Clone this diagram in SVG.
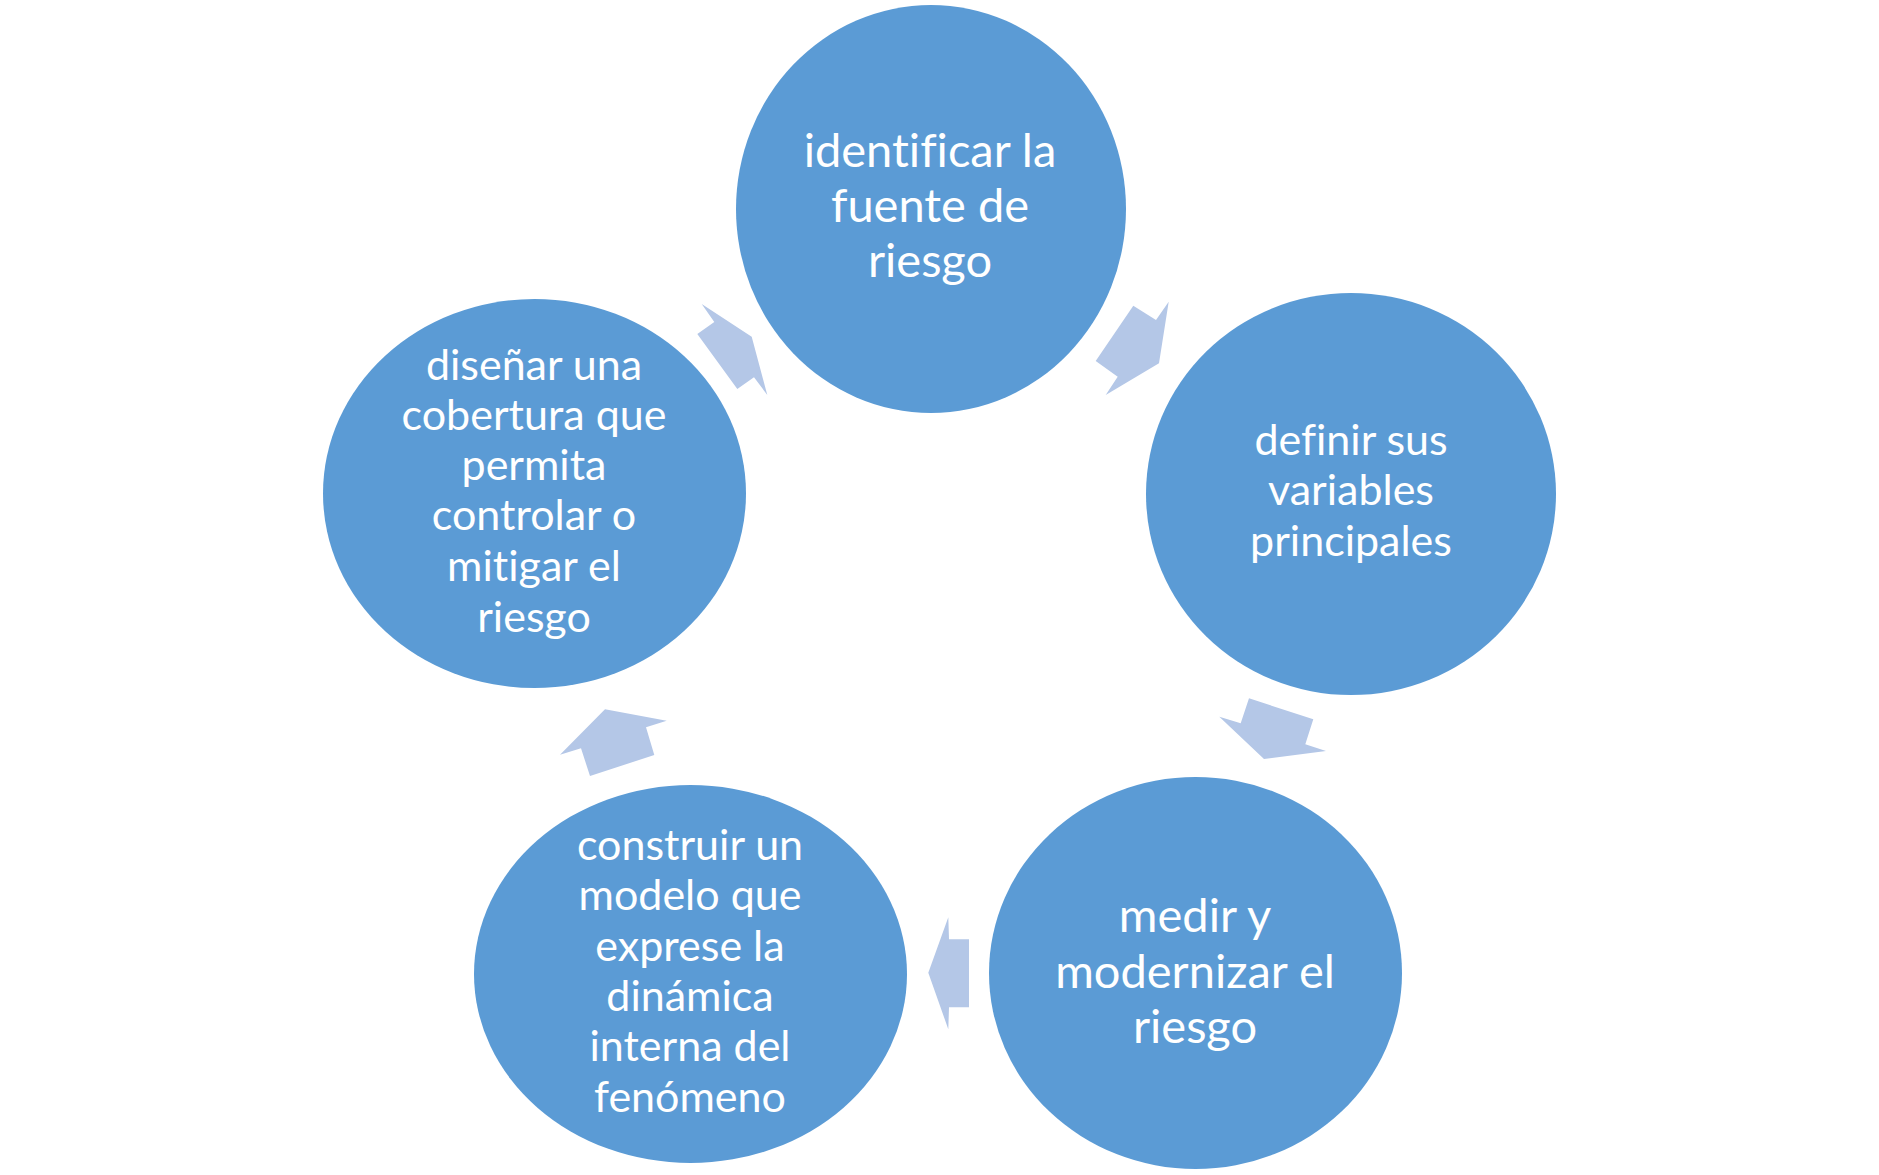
<svg xmlns="http://www.w3.org/2000/svg" width="1879" height="1175" viewBox="0 0 1879 1175">
<style>
.node{fill:#5B9BD5}
.arrow{fill:#B4C7E7}
.lbl{font-family:Lato,"Liberation Sans",sans-serif;fill:#FFFFFF;text-anchor:middle;font-variant-ligatures:none;font-feature-settings:"liga" 0}
.big{font-size:47px}
.small{font-size:43px}
</style>
<rect width="1879" height="1175" fill="#FFFFFF"/>
<g id="connectors">
<polygon class="arrow" points="701.7,304 751.7,336.7 767.3,395 754,377.3 737.3,389 697.3,334 714.3,322"/>
<polygon class="arrow" points="1133.3,305.7 1156,320 1168.7,301.7 1159,363.3 1105.7,395 1117.7,376.7 1095.7,361"/>
<polygon class="arrow" points="1249,698.3 1313.3,719.3 1305.3,744.3 1326,751 1264,759 1219.3,716.7 1240.7,723.3"/>
<polygon class="arrow" points="969,939.3 969,1007.3 949,1007.3 948.3,1029.3 928.3,972.7 948.3,917.3 949,939.3"/>
<polygon class="arrow" points="605,709.3 666.7,720.7 646,727.3 654.3,755 590,776 581,748.3 560,754.7"/>
</g>
<g id="node1">
<ellipse class="node" cx="931" cy="209" rx="195" ry="204"/>
<text class="lbl big" x="930" y="167">identificar la</text>
<text class="lbl big" x="930" y="222">fuente de</text>
<text class="lbl big" x="930" y="277">riesgo</text>
</g>
<g id="node2">
<ellipse class="node" cx="1351" cy="494" rx="205" ry="201"/>
<text class="lbl small" x="1351" y="455">definir sus</text>
<text class="lbl small" x="1351" y="505">variables</text>
<text class="lbl small" x="1351" y="556">principales</text>
</g>
<g id="node3">
<ellipse class="node" cx="1195.5" cy="973" rx="206.5" ry="196"/>
<text class="lbl big" x="1195" y="932">medir y</text>
<text class="lbl big" x="1195" y="988">modernizar el</text>
<text class="lbl big" x="1195" y="1043">riesgo</text>
</g>
<g id="node4">
<ellipse class="node" cx="690.5" cy="974" rx="216.5" ry="189"/>
<text class="lbl small" x="690" y="860">construir un</text>
<text class="lbl small" x="690" y="910">modelo que</text>
<text class="lbl small" x="690" y="961">exprese la</text>
<text class="lbl small" x="690" y="1011">dinámica</text>
<text class="lbl small" x="690" y="1061">interna del</text>
<text class="lbl small" x="690" y="1112">fenómeno</text>
</g>
<g id="node5">
<ellipse class="node" cx="534.5" cy="493.5" rx="211.5" ry="194.5"/>
<text class="lbl small" x="534" y="380">diseñar una</text>
<text class="lbl small" x="534" y="430">cobertura que</text>
<text class="lbl small" x="534" y="480">permita</text>
<text class="lbl small" x="534" y="530">controlar o</text>
<text class="lbl small" x="534" y="581">mitigar el</text>
<text class="lbl small" x="534" y="632">riesgo</text>
</g>
</svg>
